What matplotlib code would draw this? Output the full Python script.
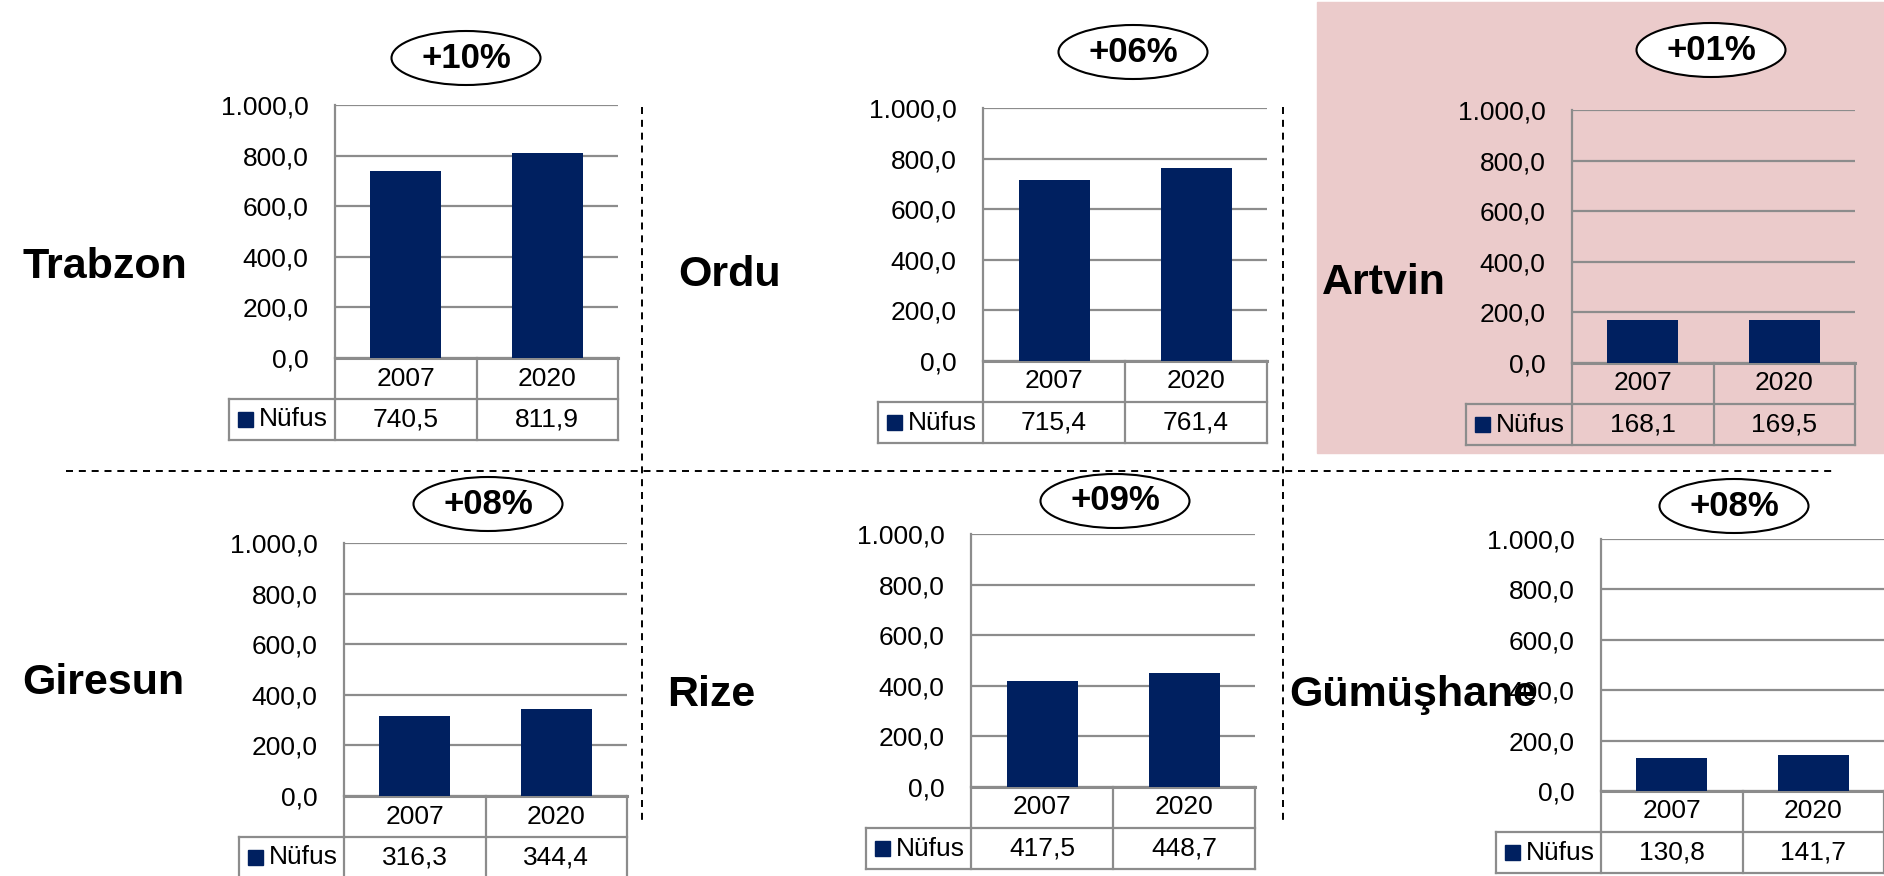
import matplotlib
matplotlib.use("Agg")
import matplotlib.pyplot as plt
from matplotlib.patches import Ellipse, Rectangle
from matplotlib.lines import Line2D
from matplotlib.transforms import blended_transform_factory
from matplotlib.ticker import FuncFormatter

provinces = ["Trabzon", "Ordu", "Artvin", "Giresun", "Rize", "Gümüşhane"]
years = ["2007", "2020"]
pop_2007 = [740.5, 715.4, 168.1, 316.3, 417.5, 130.8]
pop_2020 = [811.9, 761.4, 169.5, 344.4, 448.7, 141.7]
changes = ["+10%", "+06%", "+01%", "+08%", "+09%", "+08%"]
series_name = "Nüfus"

W, H = 1884, 876
# pixel layout per panel: plot left, plot right, plot top, zero line, table left,
# label centre x/y, bubble centre x/y
layout = [
    (335, 618, 105, 358, 229, 105, 267, 466, 58),
    (983, 1267, 108, 361, 878, 730, 275, 1133, 52),
    (1572, 1855, 110, 363, 1466, 1384, 283, 1711, 50),
    (344, 627, 543, 796, 239, 103, 683, 488, 504),
    (971, 1255, 534, 787, 866, 711, 695, 1115, 501),
    (1601, 1884, 539, 791, 1496, 1413, 695, 1734, 506),
]
ROW = 41

navy = "#002060"
grid = "#8c8c8c"
pink = "#ebcbcb"

plt.rcParams["font.family"] = ["Liberation Sans", "DejaVu Sans"]
FS = 19


def tr(v):
    s = f"{v:,.1f}"
    return s.replace(",", "_").replace(".", ",").replace("_", ".")


def fx(x):
    return x / W


def fy(y):
    return 1 - y / H


fig = plt.figure(figsize=(W / 100, H / 100), dpi=100)
fig.patch.set_facecolor("white")

# pink highlight behind Artvin
fig.add_artist(Rectangle((fx(1317), fy(453)), (W - 1317) / W, (453 - 2) / H,
                         transform=fig.transFigure, color=pink, zorder=-5))

for i, name in enumerate(provinces):
    L, R, T, Z, TL, lx, ly, ex, ey = layout[i]
    ax = fig.add_axes([fx(L), fy(Z), (R - L) / W, (Z - T) / H])
    ax.set_facecolor("none")
    ax.bar([0, 1], [pop_2007[i], pop_2020[i]], width=0.5, color=navy, zorder=3)
    ax.set_xlim(-0.5, 1.5)
    ax.set_ylim(0, 1000)
    ax.set_yticks(range(0, 1001, 200))
    ax.yaxis.set_major_formatter(FuncFormatter(lambda v, p: tr(v)))
    ax.set_xticks([])
    ax.grid(axis="y", color=grid, lw=1.6, zorder=0)
    for s in ["top", "right"]:
        ax.spines[s].set_visible(False)
    ax.spines["left"].set_color(grid)
    ax.spines["left"].set_linewidth(1.6)
    ax.spines["bottom"].set_color(grid)
    ax.spines["bottom"].set_linewidth(2.2)
    ax.tick_params(axis="y", length=0, pad=19, labelsize=FS, colors="black")

    # data table under the plot
    rh = ROW / (Z - T)
    xl = -0.5 + 2 * (TL - L) / (R - L)
    bt = blended_transform_factory(ax.transData, ax.transAxes)
    lk = dict(color=grid, lw=1.6, transform=bt, clip_on=False)
    for xv in [-0.5, 0.5, 1.5]:
        ax.plot([xv, xv], [0, -2 * rh], **lk)
    ax.plot([xl, xl], [-rh, -2 * rh], **lk)
    ax.plot([-0.5, 1.5], [-rh, -rh], **lk)
    ax.plot([xl, -0.5], [-rh, -rh], **lk)
    ax.plot([xl, 1.5], [-2 * rh, -2 * rh], **lk)
    vals = [pop_2007[i], pop_2020[i]]
    for j, yr in enumerate(years):
        ax.text(j, -rh / 2, yr, transform=bt, ha="center", va="center", fontsize=FS)
        ax.text(j, -1.5 * rh, tr(vals[j]), transform=bt, ha="center", va="center",
                fontsize=FS)
    cy = Z + ROW * 1.5
    fig.add_artist(Rectangle((fx(TL + 9), fy(cy + 7.5)), 15 / W, 15 / H,
                             transform=fig.transFigure, color=navy))
    fig.text(fx(TL + 30), fy(cy), series_name, ha="left", va="center", fontsize=FS)

    # province name and change bubble
    fig.text(fx(lx), fy(ly), name, ha="center", va="center", fontsize=31,
             fontweight="bold", zorder=5)
    fig.add_artist(Ellipse((fx(ex), fy(ey)), 149 / W, 54 / H, transform=fig.transFigure,
                           facecolor="white", edgecolor="black", lw=1.5, zorder=4))
    fig.text(fx(ex), fy(ey), changes[i], ha="center", va="center", fontsize=25,
             fontweight="bold", zorder=6)

# dashed separators
dash = dict(color="black", lw=1.4, linestyle=(0, (3.6, 3.0)), transform=fig.transFigure)
fig.add_artist(Line2D([fx(66), fx(1832)], [fy(471), fy(471)], **dash))
for xv in [642, 1283]:
    fig.add_artist(Line2D([fx(xv), fx(xv)], [fy(107), fy(820)], **dash))

fig.savefig("out.png", dpi=100)
